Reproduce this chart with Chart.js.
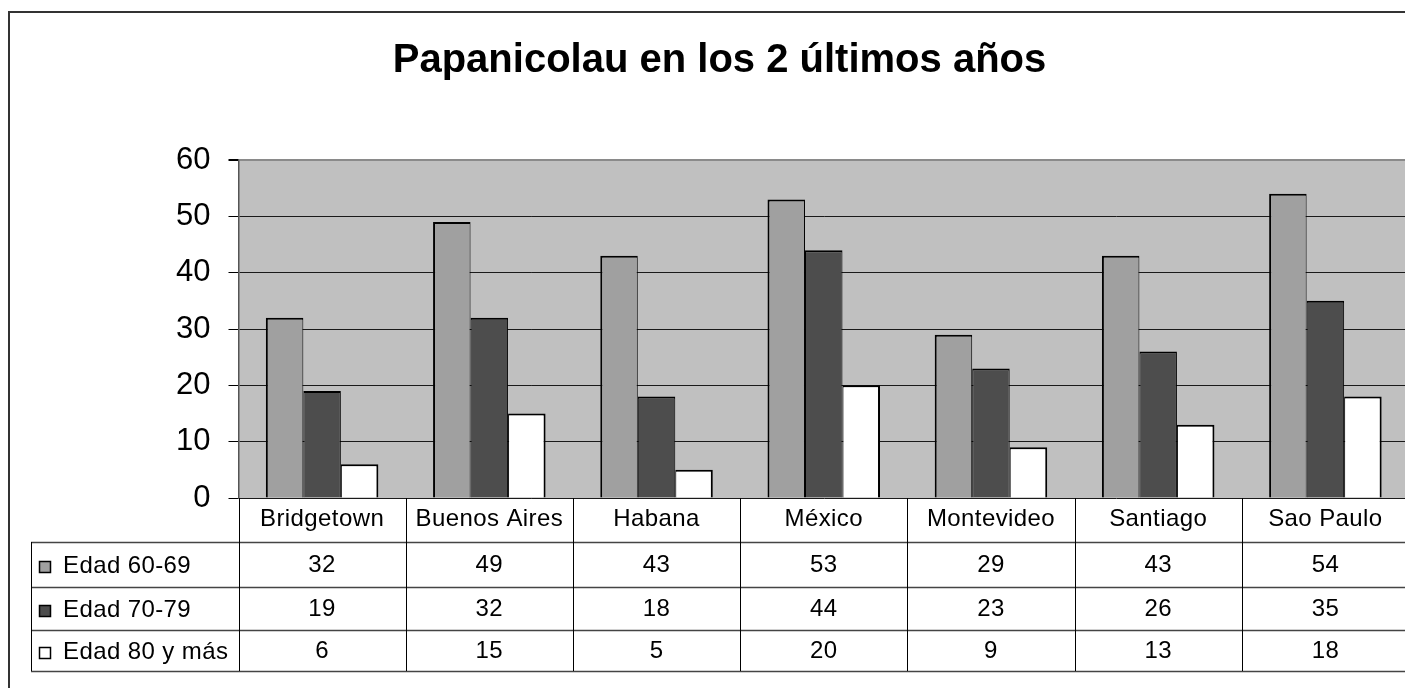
<!DOCTYPE html>
<html>
<head>
<meta charset="utf-8">
<title>Papanicolau en los 2 últimos años</title>
<script src="https://cdn.jsdelivr.net/npm/chart.js@4.4.1/dist/chart.umd.min.js"></script>
<style>
  html, body { margin: 0; padding: 0; background: #fff; overflow: hidden; }
  canvas { display: block; }
</style>
</head>
<body>
<canvas id="chart" width="1440" height="688"></canvas>
<script>
// ---- data ----
const categories = ['Bridgetown', 'Buenos Aires', 'Habana', 'México', 'Montevideo', 'Santiago', 'Sao Paulo'];
const seriesNames = ['Edad 60-69', 'Edad 70-79', 'Edad 80 y más'];
const edad6069 = [32, 49, 43, 53, 29, 43, 54];
const edad7079 = [19, 32, 18, 44, 23, 26, 35];
const edad80ymas = [6, 15, 5, 20, 9, 13, 18];
const yMin = 0;
const yMax = 60;
const yStep = 10;

const FONT = '"Liberation Sans", Arial, sans-serif';
const fills = ['#a0a0a0', '#4d4d4d', '#ffffff'];

// grey plot area + outer frame
const backdrop = {
    id: 'backdrop',
    beforeDraw(chart) {
        const { ctx, chartArea: a } = chart;
        ctx.save();
        ctx.fillStyle = '#c0c0c0';
        ctx.fillRect(a.left, a.top, a.right - a.left, a.bottom - a.top);
        ctx.strokeStyle = '#333';
        ctx.lineWidth = 2;
        ctx.strokeRect(9, 12, chart.width + 20, chart.height + 20);
        ctx.restore();
    }
};

// data table under the plot, columns follow the x scale
const dataTable = {
    id: 'dataTable',
    afterDraw(chart) {
        const { ctx, chartArea: a } = chart;
        const x = chart.scales.x;
        const n = chart.data.labels.length;
        const colW = (a.right - a.left) / n;
        const rows = [0, 44, 89, 132, 173].map(d => a.bottom + d);
        const rowLeft = 31;
        const px = v => Math.round(v) + 0.5;

        ctx.save();
        // horizontal lines
        ctx.strokeStyle = '#444';
        ctx.lineWidth = 1.5;
        for (let r = 1; r < rows.length; r++) {
            ctx.beginPath();
            ctx.moveTo(rowLeft, px(rows[r]));
            ctx.lineTo(chart.width, px(rows[r]));
            ctx.stroke();
        }
        // vertical lines
        ctx.strokeStyle = '#000';
        ctx.lineWidth = 1;
        for (let i = 0; i <= n; i++) {
            const cx = px(a.left + i * colW);
            ctx.beginPath();
            ctx.moveTo(cx, rows[0]);
            ctx.lineTo(cx, rows[4]);
            ctx.stroke();
        }
        ctx.beginPath();
        ctx.moveTo(px(rowLeft), rows[1]);
        ctx.lineTo(px(rowLeft), rows[4]);
        ctx.stroke();

        ctx.fillStyle = '#000';
        ctx.font = '24px ' + FONT;
        ctx.letterSpacing = '0.4px';
        ctx.textBaseline = 'middle';
        ctx.textAlign = 'center';
        // category header
        chart.data.labels.forEach((lab, i) => {
            ctx.fillText(lab, x.getPixelForValue(i), (rows[0] + rows[1]) / 2 - 1);
        });
        // series rows
        chart.data.datasets.forEach((ds, r) => {
            const cy = (rows[r + 1] + rows[r + 2]) / 2;
            ds.data.forEach((v, i) => {
                ctx.textAlign = 'center';
                ctx.fillText(String(v), x.getPixelForValue(i), cy + 1);
            });
            // legend key + name
            const ky = Math.round(cy - 4);
            ctx.fillStyle = ds.backgroundColor;
            ctx.fillRect(39, ky, 12, 12);
            ctx.strokeStyle = '#000';
            ctx.lineWidth = 1.5;
            ctx.strokeRect(39.5, ky + 0.5, 11, 11);
            ctx.fillStyle = '#000';
            ctx.textAlign = 'left';
            ctx.fillText(ds.label, 63, cy + 2);
        });
        ctx.restore();
    }
};

const seriesData = [edad6069, edad7079, edad80ymas];
const borders = [
    { top: 2, left: 2, right: 1, bottom: 0 },
    { top: 2, left: 1, right: 1, bottom: 0 },
    { top: 2, left: 1, right: 2, bottom: 0 }
];

new Chart(document.getElementById('chart'), {
    type: 'bar',
    data: {
        labels: categories,
        datasets: seriesNames.map((name, i) => ({
            label: name,
            data: seriesData[i],
            backgroundColor: fills[i],
            borderColor: '#000',
            borderWidth: borders[i],
            borderSkipped: 'start',
            categoryPercentage: 0.673,
            barPercentage: 1
        }))
    },
    options: {
        responsive: false,
        animation: false,
        layout: { padding: { left: 30, right: 31, top: 12, bottom: 190 } },
        scales: {
            x: { display: false },
            y: {
                min: yMin, max: yMax,
                afterFit: (scale) => { scale.width = 208.5; },
                ticks: {
                    stepSize: yStep,
                    color: '#000',
                    padding: 18,
                    font: { family: FONT, size: 31 }
                },
                grid: {
                    color: (c) => c.tick && c.tick.value === yMax ? '#8a8a8a' : '#1a1a1a',
                    lineWidth: (c) => c.tick && c.tick.value === yMax ? 2 : 1,
                    tickColor: '#000',
                    tickLength: 10
                },
                border: { color: '#555', width: 1.5 }
            }
        },
        plugins: {
            legend: { display: false },
            tooltip: { enabled: false },
            title: {
                display: true,
                text: 'Papanicolau en los 2 últimos años',
                color: '#000',
                font: { family: FONT, size: 40, weight: 'bold' },
                padding: { top: 25, bottom: 75 }
            }
        }
    },
    plugins: [backdrop, dataTable]
});
</script>
</body>
</html>
